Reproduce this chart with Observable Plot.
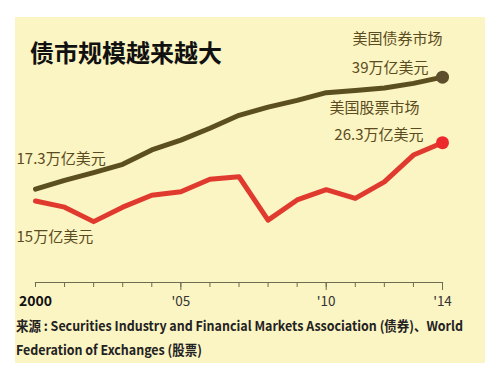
<!DOCTYPE html>
<html><head><meta charset="utf-8">
<script src="https://cdn.jsdelivr.net/npm/d3@7"></script>
<script src="https://cdn.jsdelivr.net/npm/@observablehq/plot@0.6"></script>
<style>
html,body{margin:0;padding:0;background:#fff;}
#wrap{position:relative;width:500px;height:372px;overflow:hidden;background:#fff;font-family:"Noto Sans CJK SC",sans-serif;}
#panel{position:absolute;left:15px;top:17px;width:470px;height:346px;background:#fbf4c3;}
#chart{position:absolute;left:0;top:0;}
#title{position:absolute;left:30px;top:38px;font-size:24px;font-weight:bold;line-height:28px;color:#111;white-space:nowrap;}
.src{position:absolute;left:16px;font-size:13.5px;font-weight:bold;line-height:15px;color:#222;white-space:nowrap;transform-origin:0 50%;}
</style></head><body>
<div id="wrap"><div id="panel"></div><div id="chart"></div><div id="title"></div><div id="src1" class="src" style="top:318px"></div><div id="src2" class="src" style="top:342px"></div></div>
<script>
const titleText = "债市规模越来越大";
const sourceLines = ["来源 : Securities Industry and Financial Markets Association (债券)、World", "Federation of Exchanges (股票)"];
const years = [2000,2001,2002,2003,2004,2005,2006,2007,2008,2009,2010,2011,2012,2013,2014];
const bond  = [17.3,19.0,20.5,22.1,24.9,26.8,29.1,31.6,33.2,34.5,36.0,36.4,36.9,37.8,39.0];
const stock = [15.0,13.8,11.0,13.8,16.1,16.8,19.2,19.7,11.3,15.2,17.2,15.5,18.7,23.9,26.3];
const majorTicks = [2005,2010,2014];
const tickLabels = {2000:"2000",2005:"'05",2010:"'10",2014:"'14"};
const bondName = "美国债券市场";
const stockName = "美国股票市场";
const unit = "万亿美元";

document.getElementById("title").textContent = titleText;
const s1 = document.getElementById("src1"), s2 = document.getElementById("src2");
s1.textContent = sourceLines[0];
s2.textContent = sourceLines[1];
const k = 447 / s1.getBoundingClientRect().width;
s1.style.transform = s2.style.transform = `scaleX(${k})`;

const data = years.map((y,i)=>({year:y, bond:bond[i], stock:stock[i]}));
const first = [data[0]], last = [data[data.length-1]];
const lab = "#5a4c20";
const fs = 15;
const plot = Plot.plot({
  width:500, height:372, marginLeft:35, marginRight:58, marginTop:71.5, marginBottom:90,
  style:{background:"transparent", fontFamily:"Noto Sans CJK SC", overflow:"visible"},
  x:{domain:[2000,2014], axis:null},
  y:{domain:[-0.8,40], axis:null},
  marks:[
    Plot.frame({anchor:"bottom", stroke:"#6d6b50", strokeWidth:1.2}),
    Plot.axisX({ticks: years, tickSize:5, tickFormat:()=>"", stroke:"#6d6b50", label:null}),
    Plot.axisX({ticks: majorTicks, tickSize:8, tickPadding:6, tickFormat:d=>tickLabels[d], stroke:"#6d6b50", fill:"#333", fontSize:13.5, label:null}),
    Plot.axisX({ticks: [2000], tickSize:0, tickPadding:14, tickFormat:d=>tickLabels[d], fill:"#111", fontSize:14, fontWeight:"bold", label:null}),
    Plot.lineY(data, {x:"year", y:"stock", stroke:"#e03a2f", strokeWidth:5, strokeLinejoin:"round"}),
    Plot.lineY(data, {x:"year", y:"bond", stroke:"#5b4e1f", strokeWidth:5, strokeLinejoin:"round"}),
    Plot.dot(last, {x:"year", y:"bond", r:6.5, fill:"#5e4f2c"}),
    Plot.dot(last, {x:"year", y:"stock", r:6.5, fill:"#ec2a2e"}),
    Plot.text(last, {x:"year", y:"bond", text:()=>bondName, textAnchor:"end", dx:0, dy:-38, fontSize:fs, fill:lab}),
    Plot.text(last, {x:"year", y:"bond", text:d=>d.bond+unit, textAnchor:"end", dx:-14, dy:-9, fontSize:fs, fill:lab}),
    Plot.text(last, {x:"year", y:"stock", text:()=>stockName, textAnchor:"end", dx:-23, dy:-34, fontSize:fs, fill:lab}),
    Plot.text(last, {x:"year", y:"stock", text:d=>d.stock+unit, textAnchor:"end", dx:-19, dy:-7, fontSize:fs, fill:lab}),
    Plot.text(first, {x:"year", y:"bond", text:d=>d.bond+unit, textAnchor:"start", dx:-19, dy:-30, fontSize:fs, fill:lab}),
    Plot.text(first, {x:"year", y:"stock", text:d=>d.stock+unit, textAnchor:"start", dx:-19, dy:36, fontSize:fs, fill:lab})
  ]
});
document.getElementById("chart").appendChild(plot);
</script>
</body></html>
